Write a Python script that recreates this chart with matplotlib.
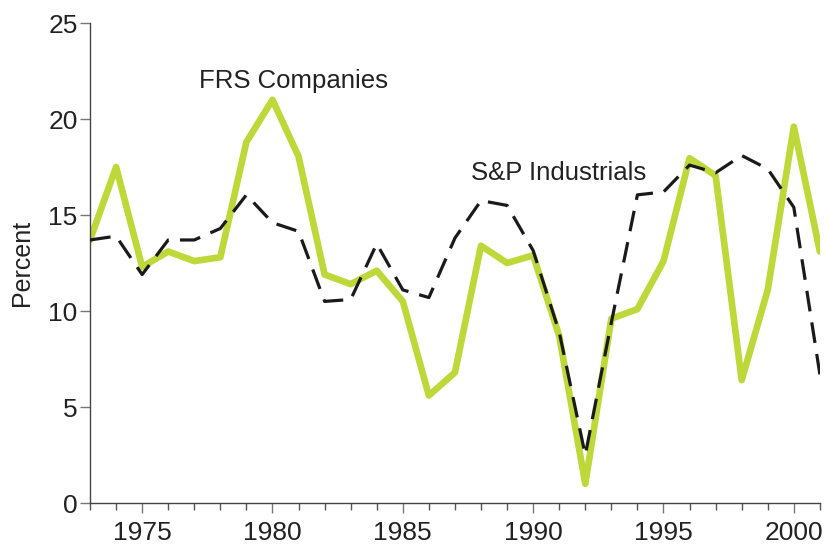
import matplotlib
matplotlib.use("Agg")
import matplotlib.pyplot as plt
from matplotlib.ticker import MultipleLocator

plt.rcParams['font.family'] = ['Liberation Sans', 'DejaVu Sans']

years = list(range(1973, 2002))
frs = [13.7, 17.5, 12.3, 13.1, 12.6, 12.8, 18.8, 21.0, 18.05, 11.9, 11.4, 12.1, 10.5,
       5.6, 6.8, 13.4, 12.5, 12.9, 8.7, 1.0, 9.6, 10.1, 12.6, 17.96, 17.05, 6.4, 11.1, 19.6, 13.1]
sp = [13.7, 13.9, 11.9, 13.7, 13.7, 14.3, 16.05, 14.6, 14.15, 10.5, 10.6, 13.5, 11.1,
      10.7, 13.8, 15.75, 15.5, 13.15, 8.9, 2.5, 9.4, 16.05, 16.2, 17.6, 17.2, 18.1, 17.4, 15.4, 6.7]
xticks = [1975, 1980, 1985, 1990, 1995, 2000]
yticks = [0, 5, 10, 15, 20, 25]

fig = plt.figure(figsize=(8.28, 5.48), dpi=100)
ax = fig.add_axes([0.1087, 0.0821, 0.8815, 0.8759])

ax.plot(years, frs, color='#bed83a', lw=4.8, solid_joinstyle='round',
        solid_capstyle='round', zorder=2)
ax.plot(years, sp, color='#1a1a1a', lw=2.3, dashes=(6.5, 3.5), zorder=3)

ax.set_xlim(1973, 2001)
ax.set_ylim(0, 25)
ax.set_xticks(xticks)
ax.set_xticklabels([str(t) for t in xticks])
ax.xaxis.set_minor_locator(MultipleLocator(1))
ax.set_yticks(yticks)
ax.set_yticklabels([str(t) for t in yticks])

for s in ['top', 'right']:
    ax.spines[s].set_visible(False)
for s in ['left', 'bottom']:
    ax.spines[s].set_color('#444444')
    ax.spines[s].set_linewidth(1.0)

ax.tick_params(axis='both', which='major', direction='out', length=7, width=1,
               color='#777777', labelsize=19, labelcolor='#222222', pad=2)
ax.tick_params(axis='x', which='major', pad=6)
ax.tick_params(axis='x', which='minor', direction='out', length=5, width=1, color='#555555')
ax.set_ylabel('Percent', fontsize=18, color='#222222', labelpad=10)

ax.text(1977.2, 22.0, 'FRS Companies', fontsize=18.5, color='#222222', va='center', ha='left')
ax.text(1987.6, 17.2, 'S&P Industrials', fontsize=18.5, color='#222222', va='center', ha='left')

fig.savefig('out.png', dpi=100)
